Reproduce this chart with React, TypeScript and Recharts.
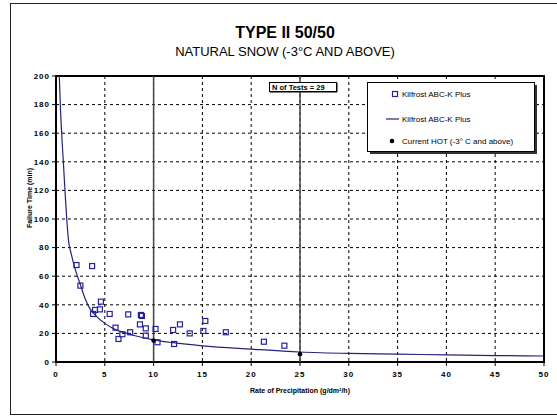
import {
  ComposedChart,
  Line,
  Scatter,
  XAxis,
  YAxis,
  CartesianGrid,
  ReferenceLine,
  ReferenceArea,
} from "recharts";

// test results (rate g/dm²/h, failure time min)
const testRate = [
  2.1, 3.7, 2.5, 4.6, 4.0, 3.8, 4.5, 5.5, 7.4, 8.8, 8.7, 6.1, 6.4, 6.8, 7.6,
  8.6, 9.2, 9.2, 10.2, 10.4, 12.0, 12.1, 12.7, 13.7, 15.1, 15.3, 17.4, 21.3, 23.4,
];
const testTime = [
  67.8, 67.1, 53.4, 42.2, 36.4, 33.6, 36.8, 33.6, 33.3, 32.2, 32.9, 24.0, 16.1,
  19.4, 20.8, 26.3, 23.5, 18.4, 23.1, 13.8, 22.4, 12.6, 26.3, 20.0, 21.7, 28.7,
  20.8, 14.2, 11.4,
];

// regression curve
const fitRate = [
  0.34, 0.44, 0.58, 0.75, 0.92, 1.1, 1.3, 1.55, 1.8, 2.1, 2.5, 3.0, 3.5, 4, 5, 6,
  7, 8, 10, 12, 15, 20, 25, 30, 35, 40, 45, 50,
];
const fitTime = [
  200, 180, 160, 140, 120, 100, 84, 76, 69, 62, 54, 44, 37, 33, 27, 23, 20.5,
  18.5, 15.5, 13.5, 11.3, 9, 7, 6, 5.5, 5, 4.5, 4.2,
];

// current holdover time
const hotRate = [10, 25];
const hotTime = [15, 5.5];

const xTicks = [0, 5, 10, 15, 20, 25, 30, 35, 40, 45, 50];
const yTicks = [0, 20, 40, 60, 80, 100, 120, 140, 160, 180, 200];

const testData = testRate.map((x, i) => ({ x, y: testTime[i] }));
const fitData = fitRate.map((x, i) => ({ x, y: fitTime[i] }));
const hotData = hotRate.map((x, i) => ({ x, y: hotTime[i] }));

const BLUE = "#2323a0";
const NAVY = "#23237e";
const FONT = "'Liberation Sans', Arial, sans-serif";

const tickStyle = {
  fontSize: 8,
  fontWeight: 700,
  fill: "#000",
  fontFamily: FONT,
  letterSpacing: 1,
};

const SquareMark = (p: any) => (
  <rect
    x={p.cx - 2.5}
    y={p.cy - 2.5}
    width={5}
    height={5}
    fill="none"
    stroke={BLUE}
    strokeWidth={1.2}
  />
);

const DotMark = (p: any) => <circle cx={p.cx} cy={p.cy} r={2.3} fill="#000" />;

const App = () => {
  return (
    <div
      style={{
        position: "fixed",
        left: 0,
        top: 0,
        width: 557,
        height: 416,
        background: "#fff",
        overflow: "hidden",
      }}
    >
      <div style={{ position: "absolute", left: 0, top: 0 }}>
        <ComposedChart
          width={557}
          height={416}
          margin={{ top: 76, right: 13, bottom: 34, left: 0 }}
        >
          <CartesianGrid
            stroke="#000"
            strokeDasharray="3 3"
            horizontalPoints={undefined}
          />
          <XAxis
            type="number"
            dataKey="x"
            domain={[0, 50]}
            ticks={xTicks}
            allowDataOverflow
            height={20}
            tickSize={4}
            tickMargin={5}
            axisLine={false}
            tickLine={{ stroke: "#000" }}
            tick={tickStyle}
          />
          <YAxis
            type="number"
            dataKey="y"
            domain={[0, 200]}
            ticks={yTicks}
            allowDataOverflow
            width={56}
            tickSize={4}
            tickMargin={2}
            axisLine={false}
            tickLine={{ stroke: "#000" }}
            tick={tickStyle}
          />
          <ReferenceLine x={10} stroke="#444" strokeWidth={1.5} />
          <ReferenceLine x={25} stroke="#444" strokeWidth={1.5} />
          <Line
            data={fitData}
            dataKey="y"
            type="monotone"
            stroke={NAVY}
            strokeWidth={1.2}
            dot={false}
            isAnimationActive={false}
          />
          <Scatter
            data={testData}
            dataKey="y"
            shape={SquareMark}
            isAnimationActive={false}
          />
          <Scatter
            data={hotData}
            dataKey="y"
            shape={DotMark}
            isAnimationActive={false}
          />
          <ReferenceArea
            x1={0}
            x2={50}
            y1={0}
            y2={200}
            fill="none"
            stroke="#000"
            strokeWidth={2}
          />
        </ComposedChart>
      </div>

      <svg
        width={557}
        height={416}
        style={{ position: "absolute", left: 0, top: 0, pointerEvents: "none" }}
      >
        <rect
          x={10.5}
          y={3.5}
          width={580}
          height={411}
          fill="none"
          stroke="#222"
          strokeWidth={1}
        />
        <text
          x={285}
          y={38}
          textAnchor="middle"
          fontFamily={FONT}
          fontWeight={700}
          fontSize={16}
          fill="#000"
        >
          TYPE II 50/50
        </text>
        <text
          x={285}
          y={56}
          textAnchor="middle"
          fontFamily={FONT}
          fontSize={13}
          fill="#000"
        >
          NATURAL SNOW (-3°C AND ABOVE)
        </text>
        <text
          x={300}
          y={393}
          textAnchor="middle"
          fontFamily={FONT}
          fontWeight={700}
          fontSize={7}
          fill="#000"
        >
          Rate of Precipitation (g/dm²/h)
        </text>
        <text
          transform="translate(32,198) rotate(-90)"
          textAnchor="middle"
          fontFamily={FONT}
          fontWeight={700}
          fontSize={7}
          fill="#000"
        >
          Failure Time (min)
        </text>

        {/* N of tests box */}
        <rect x={269.5} y={82.5} width={67} height={9} fill="#fff" stroke="#000" />
        <line x1={270} y1={92} x2={337} y2={92} stroke="#000" strokeWidth={1} />
        <line x1={337} y1={83} x2={337} y2={92} stroke="#000" strokeWidth={1} />
        <text
          x={272}
          y={90}
          fontFamily={FONT}
          fontWeight={700}
          fontSize={7.5}
          fill="#000"
        >
          N of Tests =   29
        </text>

        {/* legend */}
        <rect x={370} y={85} width={167} height={69} fill="#333" />
        <rect x={367.5} y={82.5} width={167} height={69} fill="#fff" stroke="#000" />
        <rect x={392.5} y={91.5} width={5} height={5} fill="none" stroke={BLUE} strokeWidth={1.2} />
        <text x={402} y={97} fontFamily={FONT} fontSize={8} fill="#000">
          Kilfrost ABC-K Plus
        </text>
        <line x1={386} y1={119} x2={399} y2={119} stroke={NAVY} strokeWidth={1.2} />
        <text x={402} y={122} fontFamily={FONT} fontSize={8} fill="#000">
          Kilfrost ABC-K Plus
        </text>
        <circle cx={392} cy={141} r={2.3} fill="#000" />
        <text x={402} y={144} fontFamily={FONT} fontSize={8} fill="#000">
          Current HOT (-3° C and above)
        </text>
      </svg>
    </div>
  );
};

export default App;
